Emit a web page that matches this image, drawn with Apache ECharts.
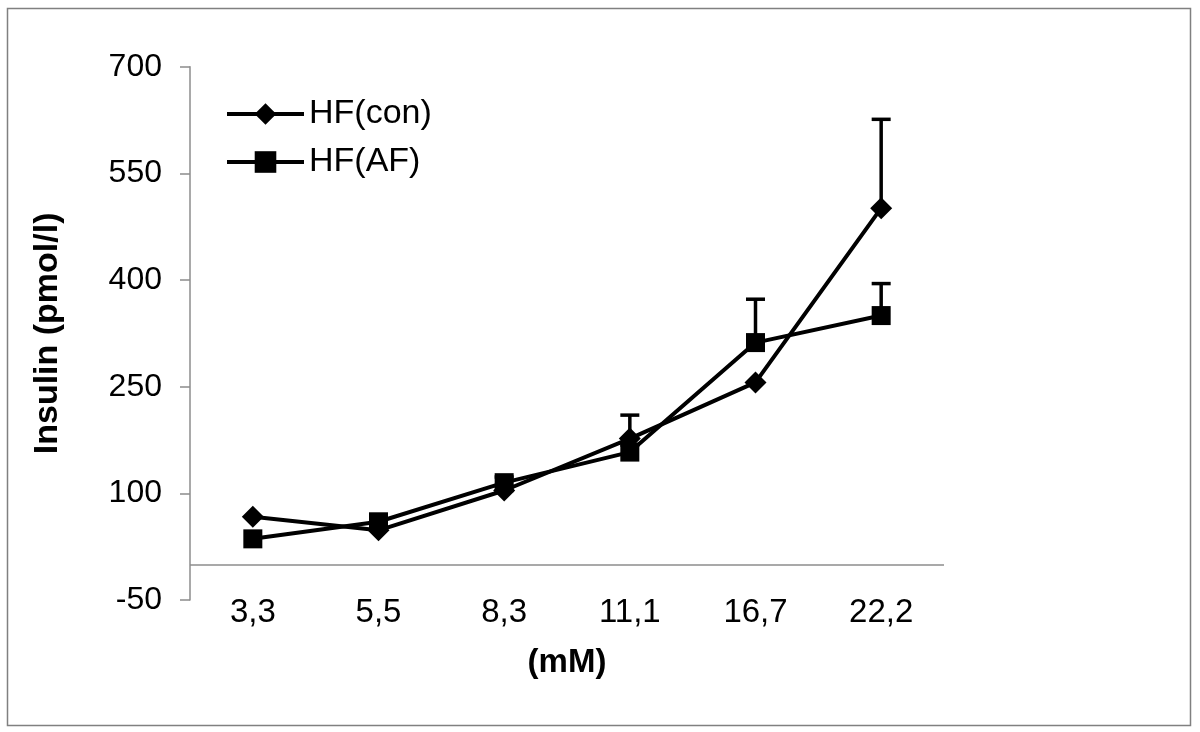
<!DOCTYPE html>
<html>
<head>
<meta charset="utf-8">
<script src="https://cdn.jsdelivr.net/npm/echarts@6/dist/echarts.min.js"></script>
<style>
html,body{margin:0;padding:0;background:#fff;}
#chart{width:1200px;height:732px;}
</style>
</head>
<body>
<div id="chart"></div>
<script>
const categories = ['3,3', '5,5', '8,3', '11,1', '16,7', '22,2'];
const conMean = [67, 48, 104, 177, 256, 501];
const conErr  = [0, 0, 6, 33, 0, 125];
const afMean  = [36, 60, 115, 158, 312, 350];
const afErr   = [0, 0, 8, 10, 61, 45];
const yTicks = { min: -50, max: 700, interval: 150 };

const FONT = '"Liberation Sans", Arial, sans-serif';

function errData(mean, err) {
  return mean.map((m, i) => [i, m, m + err[i]]);
}

function renderErr(params, api) {
  const i = api.value(0);
  const lo = api.coord([i, api.value(1)]);
  const hi = api.coord([i, api.value(2)]);
  if (Math.abs(hi[1] - lo[1]) < 0.5) return null;
  const half = 9.5;
  return {
    type: 'group',
    children: [
      { type: 'line', shape: { x1: lo[0], y1: lo[1], x2: hi[0], y2: hi[1] },
        style: { stroke: '#000', lineWidth: 3.5 } },
      { type: 'line', shape: { x1: hi[0] - half, y1: hi[1], x2: hi[0] + half, y2: hi[1] },
        style: { stroke: '#000', lineWidth: 3.5 } }
    ]
  };
}

const chart = echarts.init(document.getElementById('chart'), null, { renderer: 'canvas' });
chart.setOption({
  animation: false,
  backgroundColor: '#fff',
  textStyle: { fontFamily: FONT },
  graphic: [{
    type: 'rect',
    shape: { x: 7.5, y: 8.5, width: 1183, height: 717 },
    style: { fill: 'none', stroke: '#808080', lineWidth: 1.5 },
    silent: true,
    z: -10
  }],
  grid: { left: 190, right: 256, top: 66.7, bottom: 132, containLabel: false },
  legend: {
    left: 225,
    top: 97,
    padding: 0,
    orient: 'vertical',
    itemWidth: 77,
    itemHeight: 27,
    itemGap: 14,
    lineStyle: { width: 4, color: '#000' },
    textStyle: { fontSize: 34, color: '#000', fontFamily: FONT, lineHeight: 34 },
    data: ['HF(con)', 'HF(AF)']
  },
  xAxis: {
    type: 'category',
    data: categories,
    boundaryGap: true,
    axisLine: { show: false, onZero: false },
    axisTick: { show: false },
    axisLabel: { fontSize: 33, color: '#000', margin: -4, fontFamily: FONT },
    name: '(mM)',
    nameLocation: 'middle',
    nameGap: 46,
    nameTextStyle: { fontSize: 33, fontWeight: 'bold', color: '#000', fontFamily: FONT }
  },
  yAxis: {
    type: 'value',
    min: yTicks.min,
    max: yTicks.max,
    interval: yTicks.interval,
    splitLine: { show: false },
    axisLine: { show: true, lineStyle: { color: '#8c8c8c', width: 1.5 } },
    axisTick: { show: true, inside: false, length: 10, lineStyle: { color: '#8c8c8c', width: 1.5 } },
    axisLabel: { fontSize: 32, color: '#000', margin: 28, fontFamily: FONT },
    name: 'Insulin (pmol/l)',
    nameLocation: 'middle',
    nameGap: 125,
    nameRotate: 90,
    nameTextStyle: { fontSize: 34, fontWeight: 'bold', color: '#000', fontFamily: FONT }
  },
  series: [
    {
      name: 'HF(con)',
      type: 'line',
      data: conMean,
      symbol: 'diamond',
      symbolSize: 22,
      lineStyle: { color: '#000', width: 4 },
      itemStyle: { color: '#000' },
      z: 3,
      markLine: {
        silent: true,
        symbol: ['none', 'none'],
        label: { show: false },
        lineStyle: { color: '#8c8c8c', width: 1.5, type: 'solid' },
        data: [{ yAxis: 0 }]
      }
    },
    {
      name: 'HF(AF)',
      type: 'line',
      data: afMean,
      symbol: 'rect',
      symbolSize: 19,
      lineStyle: { color: '#000', width: 4 },
      itemStyle: { color: '#000' },
      z: 3
    },
    {
      name: 'errCon',
      type: 'custom',
      renderItem: renderErr,
      data: errData(conMean, conErr),
      z: 2,
      silent: true
    },
    {
      name: 'errAF',
      type: 'custom',
      renderItem: renderErr,
      data: errData(afMean, afErr),
      z: 2,
      silent: true
    }
  ]
});
</script>
</body>
</html>
